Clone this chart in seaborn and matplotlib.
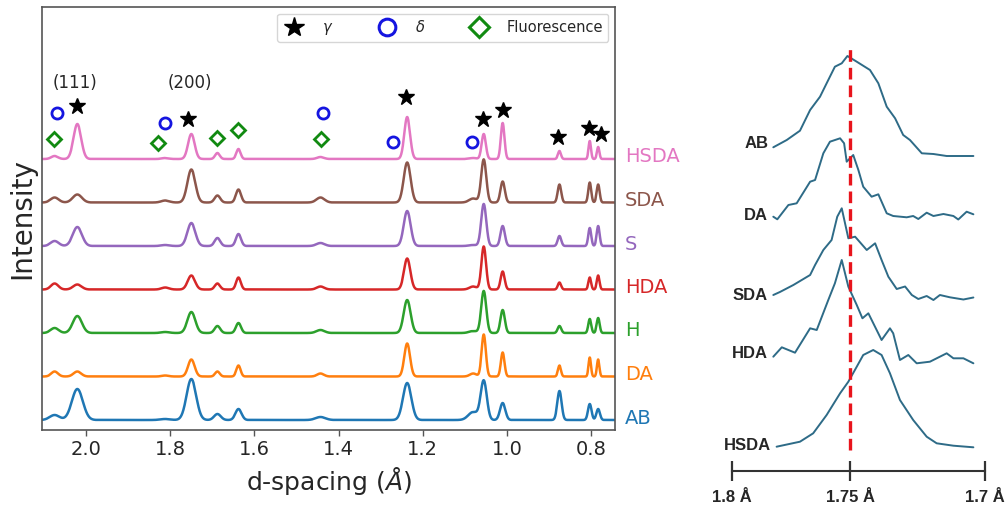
import numpy as np
import seaborn as sns
import matplotlib.pyplot as plt
from matplotlib.lines import Line2D

# ---- left panel: stacked diffraction patterns (peaks) ----
samples = ['AB', 'DA', 'H', 'HDA', 'S', 'SDA', 'HSDA']
colors = ['#1f77b4', '#ff7f0e', '#2ca02c', '#d62728', '#9467bd', '#8c564b', '#e377c2']
offsets = [10, 53.5, 97, 140.5, 184, 227.5, 271]
broadening = [1.45, 1.0, 1.2, 1.1, 1.2, 1.2, 1.0]

peak_d = [2.075, 2.021, 1.812, 1.750, 1.688, 1.638, 1.443,
          1.237, 1.080, 1.055, 1.010, 0.875, 0.803, 0.783]
peak_sigma = [0.008, 0.009, 0.008, 0.0078, 0.0055, 0.005, 0.008,
              0.0068, 0.008, 0.005, 0.0043, 0.0035, 0.0029, 0.0029]
peak_heights = {
    'AB':   [5, 31, 1, 41, 6, 11, 3, 37, 8, 39, 17, 29, 16, 11],
    'DA':   [5, 5, 1, 17, 5, 11, 3, 33, 3, 42, 24, 11, 19, 17],
    'H':    [5, 17, 1, 21, 7, 10, 3, 33, 2, 42, 23, 7, 14, 15],
    'HDA':  [6, 5, 2, 14, 6, 12, 3, 31, 3, 43, 18, 7, 12, 14],
    'S':    [5, 19, 1, 23, 8, 12, 3, 35, 1, 42, 20, 10, 18, 20],
    'SDA':  [5, 8, 2, 33, 7, 13, 5, 40, 4, 43, 21, 18, 20, 18],
    'HSDA': [3, 35, 1, 25, 6, 10, 2, 42, 1, 25, 36, 8, 18, 12],
}

# phase markers above the top pattern
gamma_d = [2.022, 1.758, 1.240, 1.057, 1.010, 0.879, 0.805, 0.777]
gamma_y = [324, 311, 333, 311, 320, 293, 302, 296]
delta_d = [2.070, 1.812, 1.438, 1.271, 1.083]
delta_y = [317, 307, 317, 288, 288]
fluor_d = [2.076, 1.829, 1.688, 1.638, 1.443]
fluor_y = [291, 287, 292, 300, 291]

# ---- right panel: zoom on the (200) peak ----
ridge_names = ['AB', 'DA', 'SDA', 'HDA', 'HSDA']
ridge_label_y = [328, 256, 176, 118, 26]
ab_d = [1.7825, 1.7768, 1.7712, 1.7669, 1.7627, 1.7599, 1.7564, 1.7535, 1.7511, 1.7475,
        1.7426, 1.7395, 1.7364, 1.7333, 1.7303, 1.7278, 1.7234, 1.7191, 1.7142, 1.7043]
ab_i = [323.7, 331, 340.3, 361, 374.3, 387.7, 404.3, 407.7, 415, 409.3,
        401, 387.7, 364.3, 352.7, 336, 331, 317.7, 317, 315, 315]
da_d = [1.7825, 1.7808, 1.7761, 1.7726, 1.7669, 1.7648, 1.7613, 1.7585, 1.7542, 1.7525,
        1.7514, 1.7488, 1.7469, 1.7451, 1.7420, 1.7395, 1.7364, 1.7340, 1.7290, 1.7266,
        1.7247, 1.7216, 1.7191, 1.7154, 1.7117, 1.7099, 1.7068, 1.7043]
da_i = [254.3, 251.7, 266, 267.7, 289.3, 291, 317.7, 329.3, 332.7, 327.7,
        309.3, 316, 301, 284.3, 274.3, 276.7, 257.7, 255, 253.7, 255,
        252, 258.3, 255, 257, 255, 251.5, 259.3, 256.7]
sda_d = [1.7825, 1.7797, 1.7740, 1.7669, 1.7648, 1.7613, 1.7578, 1.7554, 1.7535, 1.7521,
         1.7507, 1.7481, 1.7438, 1.7407, 1.7383, 1.7358, 1.7327, 1.7296, 1.7271, 1.7247,
         1.7216, 1.7191, 1.7167, 1.7130, 1.7080, 1.7043]
sda_i = [176, 179, 186, 196, 206, 221, 231, 254.3, 262.7, 247.7,
         232.7, 234.3, 221, 227.7, 211, 194.3, 182, 184.5, 176, 172,
         175, 171, 176, 173.7, 171.5, 173.5]
hda_d = [1.7825, 1.7789, 1.7733, 1.7669, 1.7641, 1.7592, 1.7564, 1.7535, 1.7507, 1.7475,
         1.7454, 1.7432, 1.7383, 1.7352, 1.7340, 1.7315, 1.7284, 1.7253, 1.7204, 1.7142,
         1.7117, 1.7080, 1.7043]
hda_i = [114.3, 123.7, 118.3, 142.7, 141, 171, 187.7, 211, 184.3, 166,
         152.7, 157.7, 131, 142.7, 137.7, 111, 116, 107.7, 109.3, 117.7,
         112.7, 112.7, 107.7]
hsda_d = [1.7811, 1.7712, 1.7656, 1.7599, 1.7542, 1.7507, 1.7475, 1.7451, 1.7414, 1.7383,
          1.7352, 1.7315, 1.7266, 1.7216, 1.7179, 1.7117, 1.7043]
hsda_i = [24.3, 29.3, 37.7, 56, 77.7, 89.3, 104.3, 116, 121, 116,
          97.7, 71, 51, 34.3, 27.7, 25.3, 23.7]
ridge_d = [ab_d, da_d, sda_d, hda_d, hsda_d]
ridge_i = [ab_i, da_i, sda_i, hda_i, hsda_i]
scale_ticks = [1.8, 1.75, 1.7]
scale_labels = ['1.8 Å', '1.75 Å', '1.7 Å']


sns.set_style('white')
plt.rcParams['font.family'] = ['DejaVu Sans']

fig = plt.figure(figsize=(10.07, 5.07), dpi=100)
ax = fig.add_axes([42 / 1007, 1 - 430 / 507, 573 / 1007, 423 / 507])

d_grid = np.linspace(0.72, 2.12, 4000)
for name, col, off, broad in zip(samples, colors, offsets, broadening):
    trace = np.full_like(d_grid, off)
    for pos, sig, h in zip(peak_d, peak_sigma, peak_heights[name]):
        trace += h * np.exp(-0.5 * ((d_grid - pos) / (sig * broad)) ** 2)
    sns.lineplot(x=d_grid, y=trace, ax=ax, color=col, lw=1.8, sort=False, estimator=None)
    ax.text(1.017, off + 2, name, transform=ax.get_yaxis_transform(), color=col,
            fontsize=14, va='center', ha='left')

ax.plot(gamma_d, gamma_y, ls='none', marker='*', ms=12, color='black')
ax.plot(delta_d, delta_y, ls='none', marker='o', ms=8, mfc='none', mec='#1515e0', mew=2)
ax.plot(fluor_d, fluor_y, ls='none', marker='D', ms=7, mfc='none', mec='#118a11', mew=2)
ax.text(2.026, 347, '(111)', fontsize=12, ha='center', va='center')
ax.text(1.753, 347, '(200)', fontsize=12, ha='center', va='center')

ax.set_xlim(2.105, 0.743)
ax.set_ylim(0, 423)
ax.set_xticks([2.0, 1.8, 1.6, 1.4, 1.2, 1.0, 0.8])
ax.set_yticks([])
ax.tick_params(axis='x', labelsize=14, length=4, width=1, bottom=True, color='#555555')
ax.set_xlabel(r'd-spacing ($Å$)', fontsize=18)
ax.set_ylabel('Intensity', fontsize=20)
for sp in ax.spines.values():
    sp.set_color('#555555')
    sp.set_linewidth(1.2)

handles = [
    Line2D([], [], ls='none', marker='*', ms=15, color='black'),
    Line2D([], [], ls='none', marker='o', ms=12, mfc='none', mec='#1515e0', mew=2.2),
    Line2D([], [], ls='none', marker='D', ms=10, mfc='none', mec='#118a11', mew=2.2),
]
ax.legend(handles, [r'$\gamma$', r'$\delta$', 'Fluorescence'], loc='upper right', ncol=3,
          fontsize=10.5, columnspacing=2.9, handlelength=1.6, handletextpad=1.1,
          borderaxespad=0.45, borderpad=0.35, frameon=True)

# right panel with non uniform scale bar
def fwd(d):
    return np.interp(d, [1.7, 1.75, 1.8], [0, 135, 253])


def inv(u):
    return np.interp(u, [0, 135, 253], [1.7, 1.75, 1.8])


ax2 = fig.add_axes([732 / 1007, 1 - 471 / 507, 253 / 1007, 431 / 507])
ax2.set_xscale('function', functions=(fwd, inv))
for name, xs, ys, ly in zip(ridge_names, ridge_d, ridge_i, ridge_label_y):
    sns.lineplot(x=xs, y=ys, ax=ax2, color='#2e6b87', lw=1.4, sort=False, estimator=None)
    ax2.text(xs[0] + 0.0022, ly, name, fontsize=12, fontweight='bold', ha='right',
             va='center', family=['Liberation Sans', 'DejaVu Sans'])
ax2.plot([1.75, 1.75], [21, 424], color='#e8141c', lw=2.4, ls=(0, (3.5, 1.8)))

ax2.set_xlim(1.8, 1.7)
ax2.set_ylim(0, 431)
ax2.set_yticks([])
ax2.set_xticks(scale_ticks)
ax2.set_xticklabels(scale_labels, fontsize=12, fontweight='bold',
                    family=['Liberation Sans', 'DejaVu Sans'])
ax2.tick_params(axis='x', direction='inout', length=14, width=1.6, color='#333333',
                pad=7, bottom=True)
for side in ['top', 'left', 'right']:
    ax2.spines[side].set_visible(False)
ax2.spines['bottom'].set_color('#333333')
ax2.spines['bottom'].set_linewidth(1.5)
ax2.set_facecolor('none')

fig.savefig('out.png', dpi=100)
